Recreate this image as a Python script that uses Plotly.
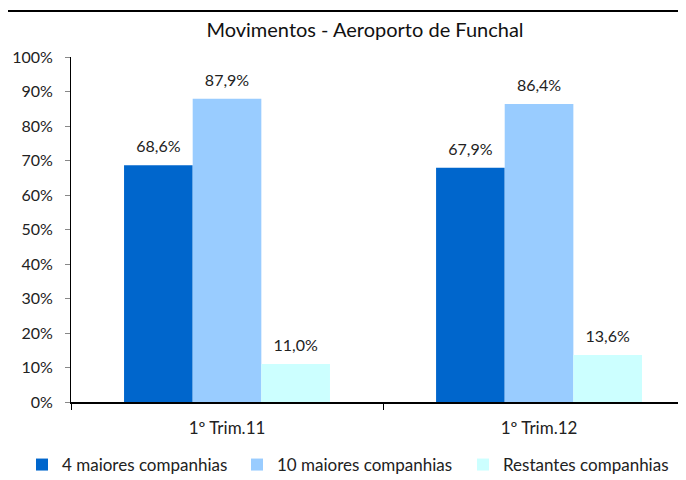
import plotly.graph_objects as go

categories = ["1º Trim.11", "1º Trim.12"]
series_names = ["4 maiores companhias", "10 maiores companhias", "Restantes companhias"]
top4 = [68.6, 67.9]
top10 = [87.9, 86.4]
others = [11.0, 13.6]
colors = ["#0066CC", "#99CCFF", "#CCFFFF"]

FONT = "Lato, Open Sans, sans-serif"

# the page body adds an 8px margin, so the figure is a bit smaller than the window
W, H = 678, 472


def pct_label(v):
    return f"{v:.1f}%".replace(".", ",")


fig = go.Figure()
legend_ids = ["legend", "legend2", "legend3"]
for i, (name, values, color, leg) in enumerate(zip(series_names, [top4, top10, others], colors, legend_ids)):
    fig.add_trace(go.Bar(
        x=categories,
        y=values,
        name=name,
        legend=leg,
        offsetgroup=str(i),
        alignmentgroup="a",
        marker=dict(color=color, line=dict(width=0)),
    ))
    # value labels, lifted a little above the bar tops
    fig.add_trace(go.Scatter(
        x=categories,
        y=values,
        mode="markers+text",
        offsetgroup=str(i),
        alignmentgroup="a",
        marker=dict(size=13, opacity=0),
        text=[pct_label(v) for v in values],
        textposition="top center",
        textfont=dict(size=16, color="#222222", family=FONT),
        cliponaxis=False,
        showlegend=False,
        hoverinfo="skip",
    ))

legend_style = dict(
    orientation="h",
    xanchor="left",
    xref="container",
    y=15 / H,
    yanchor="middle",
    yref="container",
    font=dict(size=17),
    itemwidth=30,
    bgcolor="rgba(0,0,0,0)",
)

fig.update_layout(
    width=W,
    height=H,
    margin=dict(l=63, r=0, t=49, b=78, autoexpand=False),
    paper_bgcolor="white",
    plot_bgcolor="white",
    barmode="group",
    bargap=0.34,
    bargroupgap=0,
    scattermode="group",
    scattergap=0.34,
    font=dict(family=FONT, size=16, color="#222222"),
    title=dict(
        text="Movimentos - Aeroporto de Funchal",
        x=357 / W,
        xanchor="center",
        y=1 - 22 / H,
        yanchor="middle",
        font=dict(size=20, color="#111111"),
    ),
    legend=dict(x=14 / W, **legend_style),
    legend2=dict(x=229 / W, **legend_style),
    legend3=dict(x=455 / W, **legend_style),
    showlegend=True,
)

fig.update_xaxes(
    range=[-0.5, 1.471],
    automargin=False,
    showline=True,
    linecolor="black",
    linewidth=2,
    ticks="outside",
    tickson="boundaries",
    ticklen=6,
    tickcolor="black",
    ticklabelstandoff=10,
    showgrid=False,
    tickfont=dict(size=17),
)
fig.update_yaxes(
    range=[0, 100],
    automargin=False,
    dtick=10,
    ticksuffix="%",
    showline=True,
    linecolor="black",
    linewidth=1,
    ticks="outside",
    ticklen=5,
    tickcolor="#888888",
    ticklabelstandoff=9,
    showgrid=False,
    zeroline=False,
    tickfont=dict(size=16),
)

# chart border (right and bottom edges fall outside the picture)
fig.add_shape(
    type="rect",
    xref="paper", yref="paper",
    x0=(-1 - 63) / 615, x1=1.2,
    y0=-0.5, y1=1 + (49 - 3) / 345,
    line=dict(color="black", width=2),
    layer="above",
)

fig.write_html("out.html")
